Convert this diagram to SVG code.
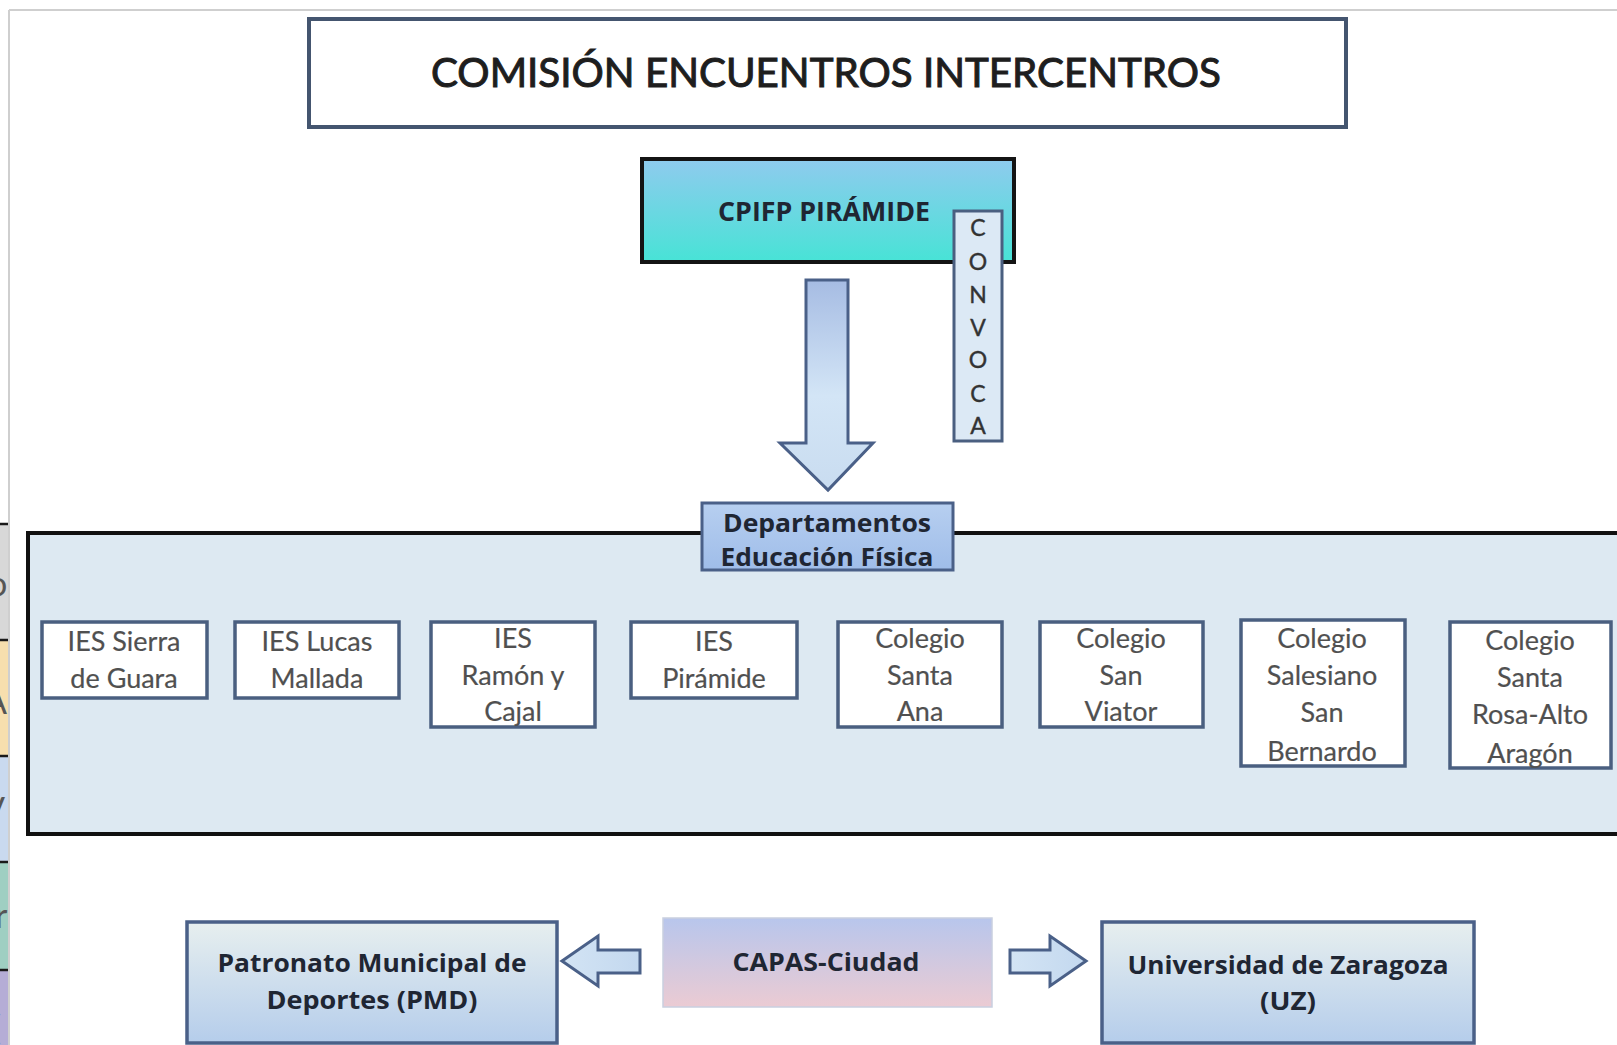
<svg xmlns="http://www.w3.org/2000/svg" width="1617" height="1045" viewBox="0 0 1617 1045">
<defs>
<linearGradient id="gCpifp" x1="0" y1="0" x2="0" y2="1"><stop offset="0" stop-color="#8fcbee"/><stop offset="1" stop-color="#47e3d6"/></linearGradient>
<linearGradient id="gArrow" x1="0" y1="0" x2="0" y2="1"><stop offset="0" stop-color="#a6bce3"/><stop offset="0.55" stop-color="#d3e5f6"/><stop offset="1" stop-color="#c9dcf0"/></linearGradient>
<linearGradient id="gDept" x1="0" y1="0" x2="0" y2="1"><stop offset="0" stop-color="#b7cff0"/><stop offset="1" stop-color="#9fbde9"/></linearGradient>
<linearGradient id="gBottom" x1="0" y1="0" x2="0" y2="1"><stop offset="0" stop-color="#e7efef"/><stop offset="1" stop-color="#b5cdeb"/></linearGradient>
<linearGradient id="gCapas" x1="0" y1="0" x2="0" y2="1"><stop offset="0" stop-color="#b8c6ec"/><stop offset="1" stop-color="#ebcbd3"/></linearGradient>
<linearGradient id="gSide" x1="0" y1="0" x2="1" y2="0"><stop offset="0" stop-color="#d3e4f4"/><stop offset="1" stop-color="#c3d8ef"/></linearGradient>
</defs>
<style>
.t{font-family:Lato,"Liberation Sans",Arial,sans-serif;text-anchor:middle}
.sch rect{fill:#ffffff;stroke:#4a5f80;stroke-width:3.5}
.sch text{font-size:27px;fill:#505050;stroke:#505050;stroke-width:0.2}
.b{font-family:"Open Sans",Lato,"Liberation Sans",Arial,sans-serif;font-weight:bold;fill:#1f2633;font-size:25px}
.conn{fill:url(#gSide);stroke:#4a6088;stroke-width:3;stroke-linejoin:miter}
</style>
<rect width="1617" height="1045" fill="#ffffff"/>
<g id="page-edge">
<rect x="0" y="524" width="9" height="116" fill="#d8d8d8"/>
<rect x="0" y="641" width="9" height="114" fill="#f7dfae"/>
<rect x="0" y="757" width="9" height="104" fill="#c9d9ef"/>
<rect x="0" y="863" width="9" height="106" fill="#9fcfc2"/>
<rect x="0" y="971" width="9" height="74" fill="#b5add6"/>
<g stroke="#1a1a1a" stroke-width="2.5">
<line x1="0" y1="524" x2="9" y2="524"/><line x1="0" y1="640" x2="9" y2="640"/><line x1="0" y1="756" x2="9" y2="756"/><line x1="0" y1="862" x2="9" y2="862"/><line x1="0" y1="970" x2="9" y2="970"/>
</g>
<g font-family="Lato,'Liberation Sans',Arial,sans-serif" font-size="34" fill="#555">
<text x="-12" y="596">o</text><text x="-16" y="714">A</text><text x="-18" y="822">V</text><text x="-5" y="928">r</text><text x="-8" y="1040">(</text>
</g>
<line x1="9" y1="10" x2="1617" y2="10" stroke="#cfcfcf" stroke-width="2"/>
<line x1="9" y1="10" x2="9" y2="1045" stroke="#cfcfcf" stroke-width="2"/>
</g>
<g id="title">
<rect x="309" y="19" width="1037" height="108" fill="#ffffff" stroke="#44556f" stroke-width="4"/>
<text class="t" x="826" y="87" font-size="40" fill="#1e1e1e" stroke="#1e1e1e" stroke-width="1" textLength="790" lengthAdjust="spacingAndGlyphs">COMISIÓN ENCUENTROS INTERCENTROS</text>
</g>
<g id="cpifp">
<rect x="642" y="159" width="372" height="103" fill="url(#gCpifp)" stroke="#141414" stroke-width="4"/>
<text class="t b" x="824" y="221" style="font-size:27px" textLength="212" lengthAdjust="spacingAndGlyphs">CPIFP PIRÁMIDE</text>
</g>
<g id="big-group">
<rect x="28" y="533" width="1610" height="301" fill="#dde9f2" stroke="#111111" stroke-width="4"/>
</g>
<g id="connectors">
<path class="conn" d="M806,280 H848 V443 H873 L828,490 L780,443 H806 Z" style="fill:url(#gArrow)"/>
<path class="conn" d="M562,961 L598,936 V950 H640 V973 H598 V986 Z"/>
<path class="conn" d="M1086,961 L1050,936 V950 H1010 V973 H1050 V986 Z"/>
</g>
<g id="convoca">
<rect x="954" y="211" width="48" height="230" fill="#dce9f5" stroke="#4a5f80" stroke-width="3"/>
<g class="t" font-size="23" fill="#333" stroke="#333" stroke-width="0.4">
<text x="978" y="236">C</text><text x="978" y="270">O</text><text x="978" y="303">N</text><text x="978" y="336">V</text><text x="978" y="368">O</text><text x="978" y="402">C</text><text x="978" y="434">A</text>
</g>
</g>
<g id="departamentos">
<rect x="702" y="503" width="251" height="67" fill="url(#gDept)" stroke="#4a6088" stroke-width="3"/>
<text class="t b" x="827" y="532" textLength="208" lengthAdjust="spacingAndGlyphs">Departamentos</text>
<text class="t b" x="827" y="566" textLength="213" lengthAdjust="spacingAndGlyphs">Educación Física</text>
</g>
<g id="ies-sierra" class="sch">
<rect x="42" y="622" width="165" height="76"/>
<text class="t" x="124" y="651">IES Sierra</text><text class="t" x="124" y="688">de Guara</text>
</g>
<g id="ies-lucas" class="sch">
<rect x="235" y="622" width="164" height="76"/>
<text class="t" x="317" y="651">IES Lucas</text><text class="t" x="317" y="688">Mallada</text>
</g>
<g id="ies-ramon" class="sch">
<rect x="431" y="622" width="164" height="105"/>
<text class="t" x="513" y="648">IES</text><text class="t" x="513" y="685">Ramón y</text><text class="t" x="513" y="721">Cajal</text>
</g>
<g id="ies-piramide" class="sch">
<rect x="631" y="622" width="166" height="76"/>
<text class="t" x="714" y="651">IES</text><text class="t" x="714" y="688">Pirámide</text>
</g>
<g id="col-santa-ana" class="sch">
<rect x="838" y="622" width="164" height="105"/>
<text class="t" x="920" y="648">Colegio</text><text class="t" x="920" y="685">Santa</text><text class="t" x="920" y="721">Ana</text>
</g>
<g id="col-san-viator" class="sch">
<rect x="1040" y="622" width="163" height="105"/>
<text class="t" x="1121" y="648">Colegio</text><text class="t" x="1121" y="685">San</text><text class="t" x="1121" y="721">Viator</text>
</g>
<g id="col-salesiano" class="sch">
<rect x="1241" y="620" width="164" height="146"/>
<text class="t" x="1322" y="648">Colegio</text><text class="t" x="1322" y="685">Salesiano</text><text class="t" x="1322" y="722">San</text><text class="t" x="1322" y="761">Bernardo</text>
</g>
<g id="col-santa-rosa" class="sch">
<rect x="1450" y="622" width="161" height="146"/>
<text class="t" x="1530" y="650">Colegio</text><text class="t" x="1530" y="687">Santa</text><text class="t" x="1530" y="724">Rosa-Alto</text><text class="t" x="1530" y="763">Aragón</text>
</g>
<g id="capas">
<rect x="663" y="918" width="329" height="89" fill="url(#gCapas)" stroke="#c9cfe0" stroke-width="1.5"/>
<text class="t b" x="826" y="971" textLength="187" lengthAdjust="spacingAndGlyphs">CAPAS-Ciudad</text>
</g>
<g id="pmd">
<rect x="187" y="922" width="370" height="121" fill="url(#gBottom)" stroke="#4a6088" stroke-width="3.5"/>
<text class="t b" x="372" y="972" textLength="309" lengthAdjust="spacingAndGlyphs">Patronato Municipal de</text>
<text class="t b" x="372" y="1009" textLength="211" lengthAdjust="spacingAndGlyphs">Deportes (PMD)</text>
</g>
<g id="uz">
<rect x="1102" y="922" width="372" height="121" fill="url(#gBottom)" stroke="#4a6088" stroke-width="3.5"/>
<text class="t b" x="1288" y="974" textLength="321" lengthAdjust="spacingAndGlyphs">Universidad de Zaragoza</text>
<text class="t b" x="1288" y="1010" textLength="56" lengthAdjust="spacingAndGlyphs">(UZ)</text>
</g>
</svg>
